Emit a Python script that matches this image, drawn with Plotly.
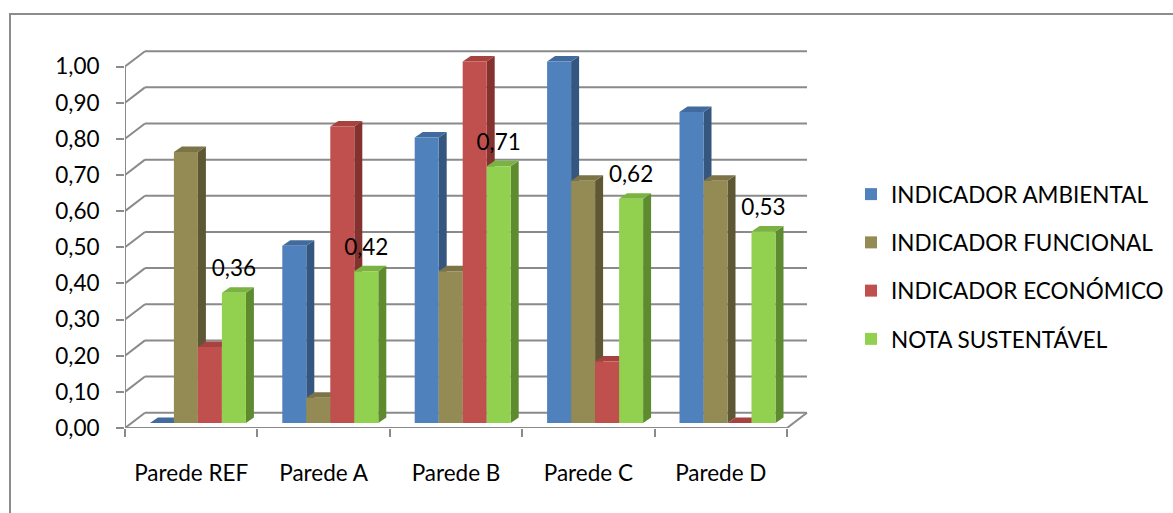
import plotly.graph_objects as go

categories = ["Parede REF", "Parede A", "Parede B", "Parede C", "Parede D"]
series_names = ["INDICADOR AMBIENTAL", "INDICADOR FUNCIONAL", "INDICADOR ECONÓMICO", "NOTA SUSTENTÁVEL"]
ambiental = [0.00, 0.49, 0.79, 1.00, 0.86]
funcional = [0.75, 0.07, 0.42, 0.67, 0.67]
economico = [0.21, 0.82, 1.00, 0.17, 0.00]
nota = [0.36, 0.42, 0.71, 0.62, 0.53]
y_ticks = [0.0, 0.1, 0.2, 0.3, 0.4, 0.5, 0.6, 0.7, 0.8, 0.9, 1.0]

front_colors = ["#4F81BD", "#948A54", "#C0504D", "#92D050"]
top_colors = ["#416B9E", "#7C7346", "#A8423F", "#7AB342"]
side_colors = ["#35577F", "#5E5733", "#833230", "#5E8A30"]
series = [ambiental, funcional, economico, nota]

W, H = 1173, 513
PX_X = 132.4   # pixels per category
PX_Y = 361.5   # pixels per unit value
ML, MR, MT, MB = 125, 353, 40, 85
PW, PH = W - ML - MR, H - MT - MB
x0 = -0.5
x1 = x0 + PW / PX_X
y0 = 0.0
y1 = PH / PX_Y

# 3D offsets (data units)
DX_WALL, DY_WALL = 20 / PX_X, 15.3 / PX_Y
DX_F, DY_F = 6.7 / PX_X, 5.0 / PX_Y
DX_B, DY_B = 8.0 / PX_X, 5.5 / PX_Y
BW = 24 / PX_X
n = len(categories)

FONT = "Lato"
FS = 22.5

grid_col = "#8A8A8A"
shapes = []
# chart border (extends past right and bottom edges as in the reference)
shapes.append(dict(type="rect", xref="paper", yref="paper", layer="below",
                   x0=(10 - ML) / PW, x1=(W + 20 - ML) / PW,
                   y0=-(MB + 20) / PH, y1=1 + (MT - 14) / PH,
                   line=dict(color="#8C8C8C", width=2)))
# back wall gridlines and left wall diagonals
for v in y_ticks:
    shapes.append(dict(type="line", layer="below", xref="x", yref="y",
                       x0=x0 + DX_WALL, x1=x0 + n + DX_WALL, y0=v + DY_WALL, y1=v + DY_WALL,
                       line=dict(color=grid_col, width=2)))
    shapes.append(dict(type="line", layer="below", xref="x", yref="y",
                       x0=x0, x1=x0 + DX_WALL, y0=v, y1=v + DY_WALL,
                       line=dict(color=grid_col, width=2)))
# floor right edge
shapes.append(dict(type="line", layer="below", xref="x", yref="y",
                   x0=x0 + n, x1=x0 + n + DX_WALL, y0=0, y1=DY_WALL,
                   line=dict(color=grid_col, width=2)))

def poly(pts):
    return "M " + " L ".join(f"{a},{b}" for a, b in pts) + " Z"

side_shapes, top_shapes = [], []
for s, vals in enumerate(series):
    for i, v in enumerate(vals):
        cx = i + (s - 1.5) * BW + DX_F
        l, r = cx - BW / 2, cx + BW / 2
        b, t = DY_F, DY_F + v
        side_shapes.append(dict(type="path", layer="below", xref="x", yref="y",
                                path=poly([(r, b), (r, t), (r + DX_B, t + DY_B), (r + DX_B, b + DY_B)]),
                                fillcolor=side_colors[s], line=dict(width=0)))
        top_shapes.append(dict(type="path", layer="below", xref="x", yref="y",
                               path=poly([(l, t), (r, t), (r + DX_B, t + DY_B), (l + DX_B, t + DY_B)]),
                               fillcolor=top_colors[s], line=dict(width=0)))
shapes += side_shapes + top_shapes

fig = go.Figure()
for s, vals in enumerate(series):
    xs = [i + (s - 1.5) * BW + DX_F for i in range(n)]
    fig.add_trace(go.Bar(
        x=xs, y=vals, base=DY_F, width=BW, name=series_names[s],
        marker=dict(color=front_colors[s], line=dict(width=0)),
        legendgroup=series_names[s], hoverinfo="skip",
    ))

# y axis line
fig.add_trace(go.Scatter(x=[x0, x0], y=[0, 1.0], mode="lines",
                         line=dict(color=grid_col, width=2), showlegend=False, hoverinfo="skip"))
# x axis (front floor edge)
fig.add_trace(go.Scatter(x=[x0, x0 + n], y=[0, 0], mode="lines",
                         line=dict(color=grid_col, width=2), showlegend=False, hoverinfo="skip"))

# data labels for NOTA SUSTENTÁVEL
lab_x = [i + 1.5 * BW + DX_F for i in range(n)]
lab_y = [v + 27 / PX_Y for v in nota]
fig.add_trace(go.Scatter(x=lab_x, y=lab_y, mode="text",
                         text=[f"{v:.2f}".replace(".", ",") for v in nota],
                         textposition="middle center",
                         textfont=dict(family=FONT, size=FS, color="#000000"),
                         showlegend=False, hoverinfo="skip", cliponaxis=False))

fig.update_layout(
    width=W, height=H,
    margin=dict(l=ML, r=MR, t=MT, b=MB),
    paper_bgcolor="white", plot_bgcolor="white",
    barmode="overlay",
    separators=",.",
    font=dict(family=FONT, size=FS, color="#000000"),
    shapes=shapes,
    showlegend=True,
    legend=dict(xref="container", yref="container", x=851 / W, y=1 - 173 / H,
                xanchor="left", yanchor="top", tracegroupgap=16,
                font=dict(family=FONT, size=FS, color="#000000"),
                bgcolor="rgba(0,0,0,0)"),
    xaxis=dict(range=[x0, x1], showgrid=False, zeroline=False, showline=False,
               tickmode="array", tickvals=list(range(n)), ticktext=categories,
               ticks="", ticklabelstandoff=29,
               minor=dict(tickmode="array", tickvals=[x0 + k for k in range(n + 1)],
                          ticks="outside", ticklen=8, tickcolor=grid_col, tickwidth=2),
               tickfont=dict(family=FONT, size=FS)),
    yaxis=dict(range=[y0, y1], showgrid=False, zeroline=False, showline=False,
               tickmode="array", tickvals=y_ticks, tickformat=".2f",
               ticks="outside", ticklen=8, tickcolor=grid_col, tickwidth=2,
               ticklabelstandoff=12, tickfont=dict(family=FONT, size=FS)),
)

fig.write_html("out.html")
